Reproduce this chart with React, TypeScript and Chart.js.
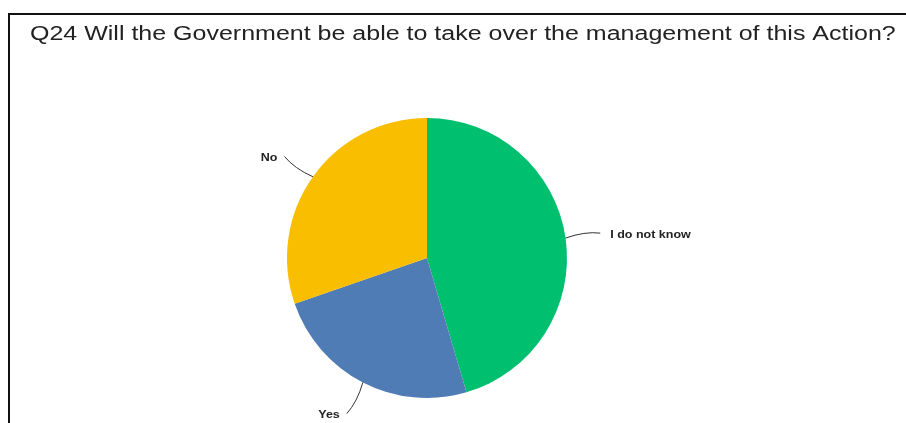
import React, { useEffect, useRef } from "react";
import { Chart, registerables } from "chart.js";

Chart.register(...registerables);

const TITLE = "Q24 Will the Government be able to take over the management of this Action?";
const categories = ["I do not know", "Yes", "No"];
const counts = [15, 8, 10];
const colors = ["#00BF6F", "#507CB6", "#F9BE00"];

const TEXT_STRETCH = 1.25;

function stretchedText(ctx: any, text: string, x: number, y: number) {
  ctx.save();
  ctx.translate(x, y);
  ctx.scale(TEXT_STRETCH, 1);
  ctx.fillText(text, 0, 0);
  ctx.restore();
}

const framePlugin = {
  id: "frameTitle",
  beforeDraw(chart: any) {
    const ctx = chart.ctx;
    ctx.save();
    ctx.fillStyle = "#ffffff";
    ctx.fillRect(0, 0, chart.width, chart.height);
    ctx.strokeStyle = "#111111";
    ctx.lineWidth = 2;
    ctx.beginPath();
    ctx.moveTo(9, chart.height + 5);
    ctx.lineTo(9, 14);
    ctx.lineTo(chart.width + 5, 14);
    ctx.stroke();
    ctx.fillStyle = "#222222";
    ctx.font = "20px 'Liberation Sans', Arial, sans-serif";
    ctx.textAlign = "left";
    ctx.textBaseline = "alphabetic";
    stretchedText(ctx, TITLE, 30, 39.5);
    ctx.restore();
  },
};

const labelPlugin = {
  id: "pieLabels",
  afterDatasetsDraw(chart: any) {
    const ctx = chart.ctx;
    const meta = chart.getDatasetMeta(0);
    ctx.save();
    ctx.font = "bold 10px 'Liberation Sans', Arial, sans-serif";
    ctx.fillStyle = "#222222";
    ctx.strokeStyle = "#333333";
    ctx.lineWidth = 1;
    meta.data.forEach((arc: any, i: number) => {
      const { x, y, startAngle, endAngle, outerRadius } = arc.getProps(
        ["x", "y", "startAngle", "endAngle", "outerRadius"],
        true
      );
      const mid = (startAngle + endAngle) / 2;
      const cos = Math.cos(mid);
      const sin = Math.sin(mid);
      const sx = x + cos * outerRadius;
      const sy = y + sin * outerRadius;
      const ex = x + cos * (outerRadius + 35);
      const ey = y + sin * (outerRadius + 35);
      const cx = x + cos * (outerRadius + 20);
      const cy = y + sin * (outerRadius + 20);
      ctx.beginPath();
      ctx.moveTo(sx, sy);
      ctx.quadraticCurveTo(cx + sin * 4, cy - cos * 4, ex, ey);
      ctx.stroke();
      const right = cos >= 0;
      ctx.textAlign = right ? "left" : "right";
      ctx.textBaseline = "middle";
      stretchedText(ctx, categories[i], ex + (right ? 10 : -7), ey + 2);
    });
    ctx.restore();
  },
};

export default function App() {
  const ref = useRef<HTMLCanvasElement | null>(null);
  useEffect(() => {
    if (!ref.current) return;
    const chart = new Chart(ref.current, {
      type: "pie",
      data: {
        labels: categories,
        datasets: [
          {
            data: counts,
            backgroundColor: colors,
            borderWidth: 0,
          },
        ],
      },
      options: {
        animation: false,
        responsive: false,
        maintainAspectRatio: false,
        layout: { padding: { left: 287, right: 339, top: 118, bottom: 25 } },
        plugins: {
          legend: { display: false },
          tooltip: { enabled: false },
          title: { display: false },
        },
      },
      plugins: [framePlugin, labelPlugin],
    });
    return () => chart.destroy();
  }, []);
  return (
    <div style={{ position: "fixed", left: 0, top: 0, width: 906, height: 423, background: "#fff" }}>
      <canvas ref={ref} width={906} height={423} style={{ display: "block", width: 906, height: 423 }} />
    </div>
  );
}
